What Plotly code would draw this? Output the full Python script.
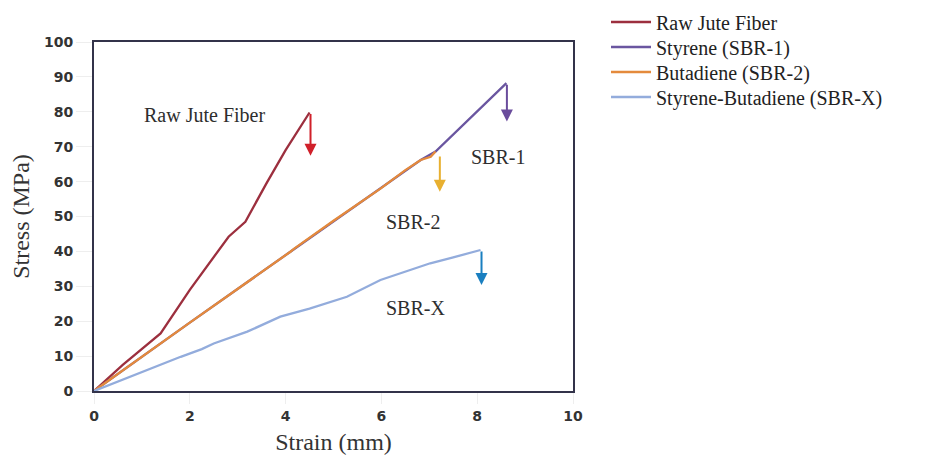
import plotly.graph_objects as go

# ---- data ----
jute_strain = [0, 0.6, 1.39, 2.0, 2.81, 3.0, 3.16, 3.6, 4.0, 4.50]
jute_stress = [0, 7.5, 16.5, 29.0, 44.2, 46.5, 48.5, 59.5, 69.0, 79.8]

sbr1_strain = [0, 2.0, 4.10, 5.15, 5.98, 6.82, 7.13, 7.6, 8.1, 8.61]
sbr1_stress = [0, 19.6, 39.9, 50.0, 58.0, 66.2, 68.6, 74.8, 81.4, 88.2]

sbr2_strain = [0, 2.0, 4.10, 4.18, 5.0, 5.98, 6.5, 6.82, 7.03, 7.13]
sbr2_stress = [0, 19.6, 39.9, 40.8, 48.8, 58.0, 63.3, 66.2, 67.1, 68.6]

sbrx_strain = [0, 1.0, 1.81, 2.25, 2.50, 3.2, 3.89, 4.5, 5.28, 5.98, 6.5, 7.02, 7.5, 8.07]
sbrx_stress = [0, 5.5, 9.8, 12.0, 13.6, 17.0, 21.3, 23.6, 27.0, 31.8, 34.2, 36.6, 38.3, 40.4]

# failure arrows: (strain, top stress, bottom stress)
arrow_x = [4.52, 8.62, 7.22, 8.09]
arrow_top = [79.8, 88.2, 67.6, 40.4]
arrow_bot = [67.4, 77.2, 57.1, 30.4]
arrow_colors = ["#d0202a", "#6a4c9c", "#e8b030", "#1a7fc0"]

# curve labels
label_text = ["Raw Jute Fiber", "SBR-1", "SBR-2", "SBR-X"]
label_x = [2.31, 8.44, 6.65, 6.71]
label_y = [79.1, 67.0, 48.4, 23.7]

series_names = ["Raw Jute Fiber", "Styrene (SBR-1)", "Butadiene (SBR-2)", "Styrene-Butadiene (SBR-X)"]
line_colors = ["#9c2f3e", "#6a56a0", "#e48a3c", "#93acdc"]

x_ticks = [0, 2, 4, 6, 8, 10]
y_ticks = [0, 10, 20, 30, 40, 50, 60, 70, 80, 90, 100]

W, H = 923, 447
serif = "Liberation Serif"
legend_ids = ["legend", "legend2", "legend3", "legend4"]
legend_rows_px = [14, 39, 64, 89]  # row centres, figure pixels from top

fig = go.Figure()
series = [(jute_strain, jute_stress), (sbr1_strain, sbr1_stress),
          (sbr2_strain, sbr2_stress), (sbrx_strain, sbrx_stress)]
for (xs, ys), name, col, lid in zip(series, series_names, line_colors, legend_ids):
    fig.add_trace(go.Scatter(x=xs, y=ys, mode="lines", name=name, legend=lid,
                             line=dict(color=col, width=2.3)))

annotations = []
for xa, yt, yb, c in zip(arrow_x, arrow_top, arrow_bot, arrow_colors):
    annotations.append(dict(x=xa, y=yb, ax=xa, ay=yt, xref="x", yref="y", axref="x", ayref="y",
                            text="", showarrow=True, arrowhead=2, arrowsize=1.2, arrowwidth=2,
                            arrowcolor=c))
for t, lx, ly in zip(label_text, label_x, label_y):
    annotations.append(dict(x=lx, y=ly, xref="x", yref="y", text=t, showarrow=False,
                            font=dict(family=serif, size=20, color="#2e2e2e")))

legend_layout = {}
for lid, rowpx in zip(legend_ids, legend_rows_px):
    legend_layout[lid] = dict(
        xref="container", yref="container", x=598 / W, y=1 - rowpx / H,
        xanchor="left", yanchor="middle",
        font=dict(family=serif, size=20, color="#222222"),
        itemwidth=40, bgcolor="rgba(0,0,0,0)", borderwidth=0)

fig.update_layout(
    width=W, height=H,
    margin=dict(l=86, r=358, t=34, b=64, autoexpand=False),
    paper_bgcolor="white", plot_bgcolor="white",
    annotations=annotations,
    showlegend=True,
    xaxis=dict(range=[0, 10], tickvals=x_ticks, showgrid=False, zeroline=False, automargin=False,
               showline=True, linecolor="#33334a", linewidth=2, mirror=True,
               ticks="outside", ticklen=11, tickcolor="#eeeeee",
               tickfont=dict(family="DejaVu Sans", size=14, color="#333333", weight="bold"),
               title=dict(text="Strain (mm)", font=dict(family=serif, size=24, color="#333333"),
                          standoff=22)),
    yaxis=dict(range=[0, 100], tickvals=y_ticks, showgrid=False, zeroline=False, automargin=False,
               showline=True, linecolor="#33334a", linewidth=2, mirror=True,
               ticks="outside", ticklen=16, tickcolor="#eeeeee",
               tickfont=dict(family="DejaVu Sans", size=14, color="#333333", weight="bold"),
               title=dict(text="Stress (MPa)", font=dict(family=serif, size=24, color="#333333"),
                          standoff=10)),
    **legend_layout,
)

fig.write_html("out.html")
